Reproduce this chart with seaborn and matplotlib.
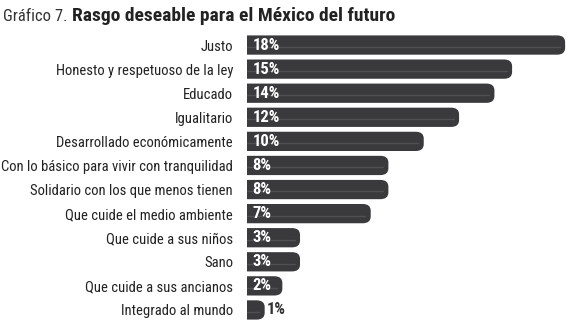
import matplotlib
matplotlib.use("Agg")
import matplotlib.pyplot as plt
import seaborn as sns
import pandas as pd
from matplotlib.patches import FancyBboxPatch
from matplotlib import font_manager

categories = ["Justo", "Honesto y respetuoso de la ley", "Educado", "Igualitario",
              "Desarrollado económicamente", "Con lo básico para vivir con tranquilidad",
              "Solidario con los que menos tienen", "Que cuide el medio ambiente",
              "Que cuide a sus niños", "Sano", "Que cuide a sus ancianos", "Integrado al mundo"]
values = [18, 15, 14, 12, 10, 8, 8, 7, 3, 3, 2, 1]
labels = [f"{v}%" for v in values]

sns.set_theme(style="white")
names = {f.name for f in font_manager.fontManager.ttflist}
fam = "Roboto"
for cand in ["Roboto Condensed", "Liberation Sans Narrow"]:
    if cand in names:
        fam = cand
        break
narrow = fam != "Roboto"
plt.rcParams["font.family"] = [fam, "DejaVu Sans"]

df = pd.DataFrame({"cat": categories, "val": values})
fig = plt.figure(figsize=(5.67, 3.22), dpi=100)
ax = fig.add_axes([247/567, 0.0, 1 - 247/567 - 1/567, 1 - 33/322])
bar_color = "#3a3a3c"
sns.barplot(data=df, x="val", y="cat", ax=ax, color=bar_color, width=0.8, saturation=1)

for p in list(ax.patches):
    x0, y0 = p.get_x(), p.get_y()
    w, h = p.get_width(), p.get_height()
    p.set_visible(False)
    r = 0.45
    fb = FancyBboxPatch((x0 - 1, y0), w + 1, h,
                        boxstyle=f"round,pad=0,rounding_size={r}",
                        mutation_aspect=0.7 * h / r / 2,
                        facecolor=bar_color, edgecolor="none", clip_on=True)
    ax.add_patch(fb)
    ax.plot([x0, x0 + w - 0.3], [y0 + h * 0.6, y0 + h * 0.6], color="#505052", lw=1.0, clip_on=True)

for i, (v, lab) in enumerate(zip(values, labels)):
    if v >= 2:
        ax.text(0.3, i, lab, color="white", fontweight="bold", fontsize=12,
                va="center", ha="left")
    else:
        ax.text(v + 0.1, i, lab, color="#333333", fontweight="bold", fontsize=12,
                va="center", ha="left")

ax.set_xlim(0, 18.05)
ax.set_ylim(11.5, -0.5)
ax.set_xlabel("")
ax.set_ylabel("")
ax.set_xticks([])
ax.tick_params(axis="y", length=0, pad=10, labelsize=10.5 if narrow else 9.3,
               labelcolor="#222222")
for s in ax.spines.values():
    s.set_visible(False)

fig.text(0.006, 0.935, "Gráfico 7.", fontsize=12 if narrow else 10, color="#333333",
         va="baseline")
fig.text(0.127, 0.935, "Rasgo deseable para el México del futuro",
         fontsize=14 if narrow else 12.5, fontweight="bold", color="#222222",
         va="baseline")

fig.savefig("out.png", dpi=100)
